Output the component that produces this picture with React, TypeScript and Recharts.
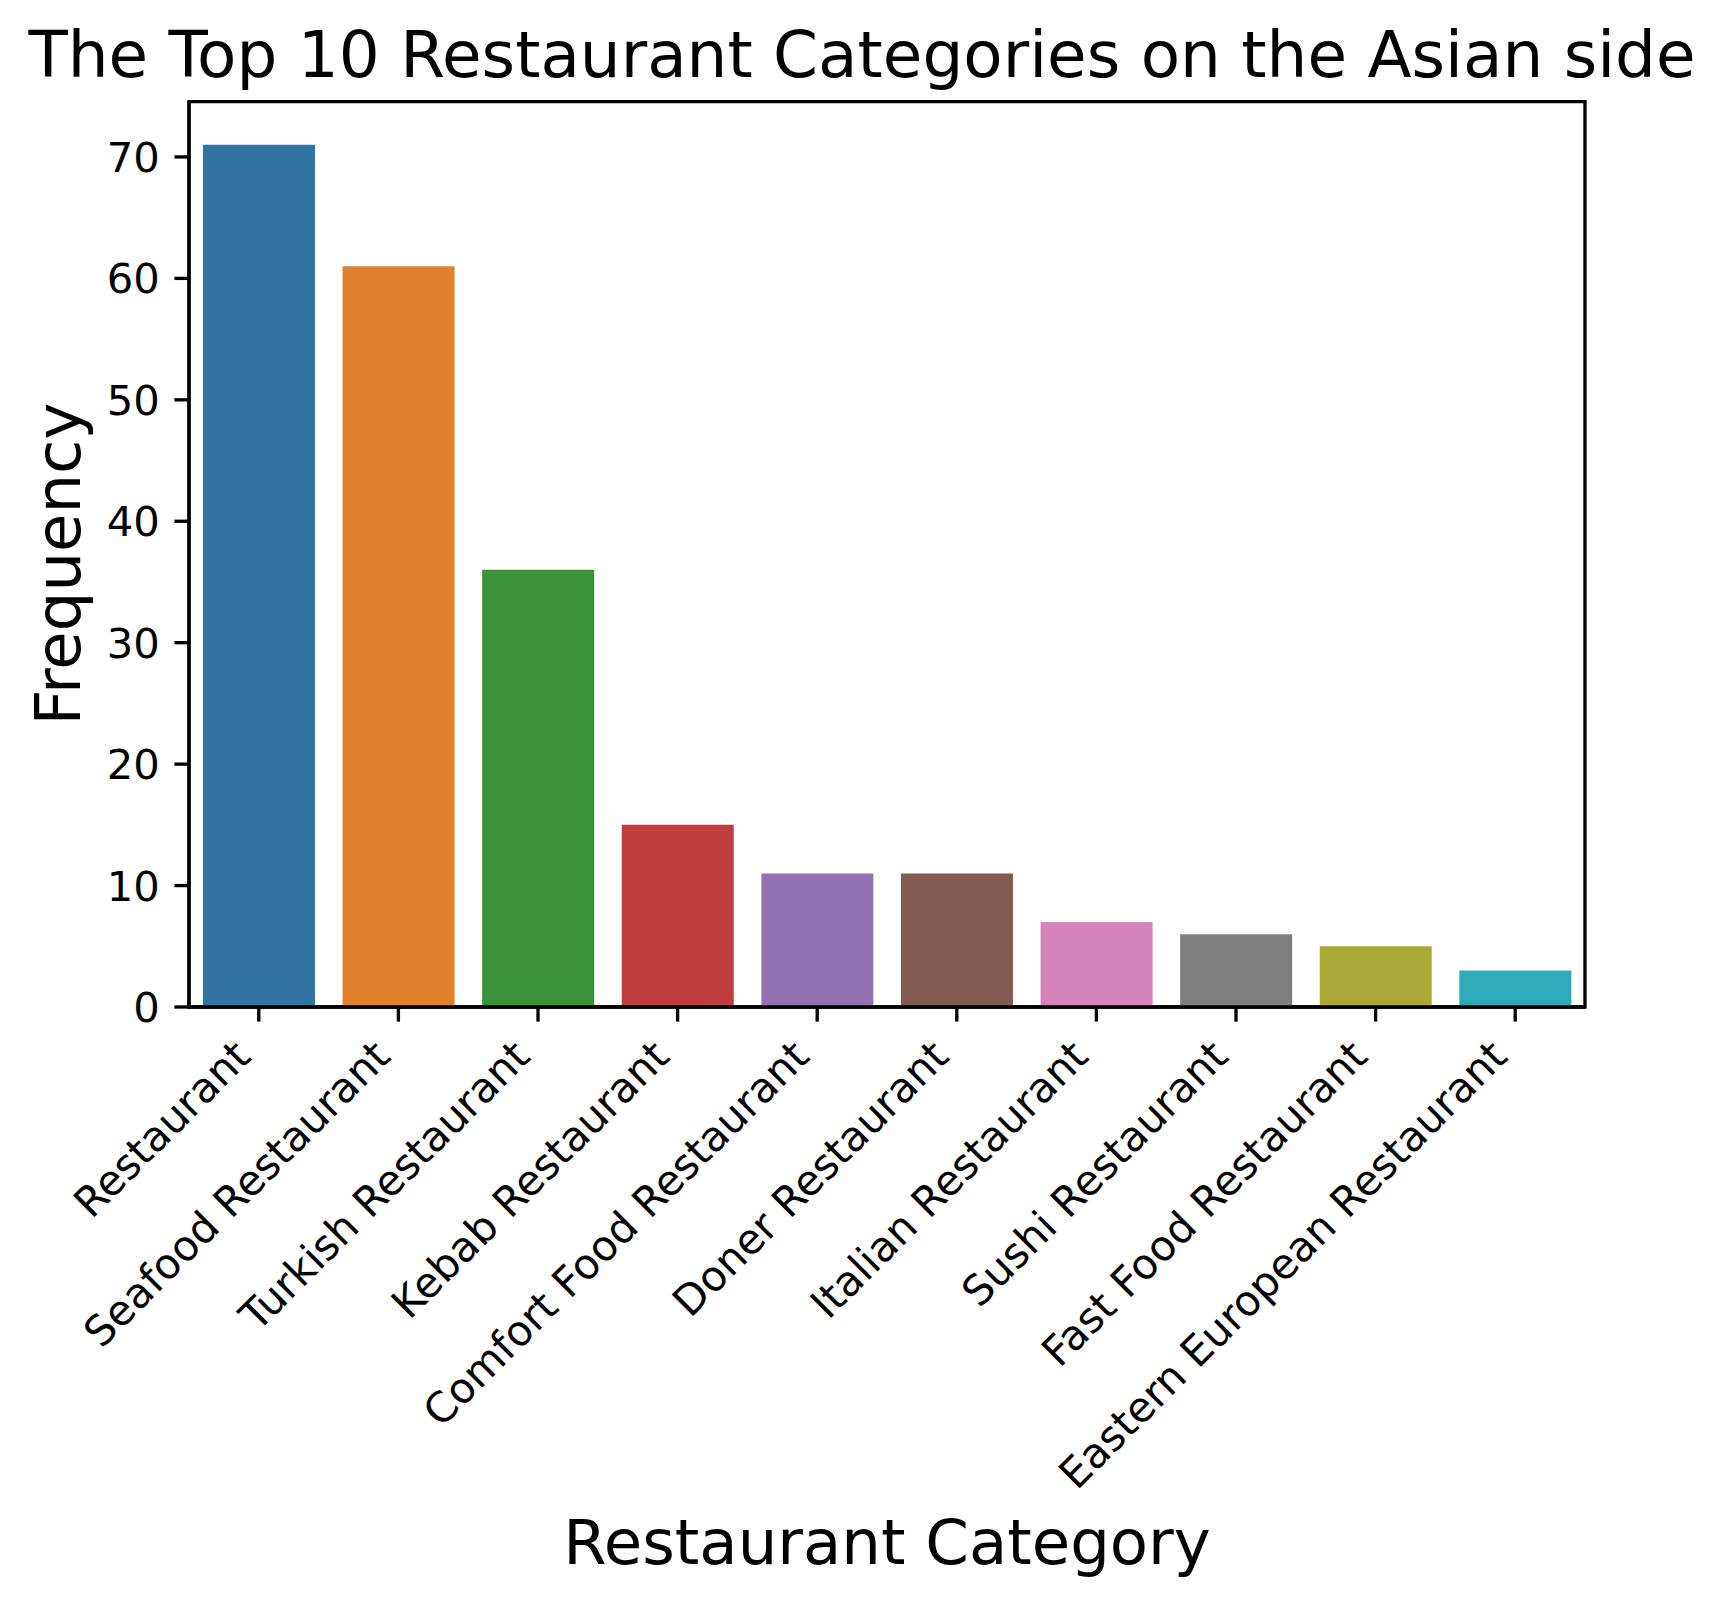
import React from 'react';
import { BarChart, Bar, XAxis, YAxis, Cell, ReferenceArea } from 'recharts';

const categories = [
  'Restaurant',
  'Seafood Restaurant',
  'Turkish Restaurant',
  'Kebab Restaurant',
  'Comfort Food Restaurant',
  'Doner Restaurant',
  'Italian Restaurant',
  'Sushi Restaurant',
  'Fast Food Restaurant',
  'Eastern European Restaurant',
];
const frequencies = [71, 61, 36, 15, 11, 11, 7, 6, 5, 3];
const barColors = [
  '#3274a1',
  '#e1812c',
  '#3a923a',
  '#c03d3e',
  '#9372b2',
  '#845b53',
  '#d684bd',
  '#7f7f7f',
  '#a9aa35',
  '#2eabb8',
];
const yTicks = [0, 10, 20, 30, 40, 50, 60, 70];
const yDomainMax = 74.55;

const titleText = 'The Top 10 Restaurant Categories on the Asian side';
const xLabelText = 'Restaurant Category';
const yLabelText = 'Frequency';

const data = categories.map((c, i) => ({ category: c, frequency: frequencies[i] }));

const FONT = "'DejaVu Sans', sans-serif";
const TICK_FS = 41.7;
const LABEL_FS = 62.5;
const TITLE_FS = 64.4;
const W = 1725;
const H = 1605;
const PLOT_LEFT = 189;
const PLOT_RIGHT = 1585;
const PLOT_TOP = 101.7;
const PLOT_BOTTOM = 1007;
const TICK_LEN = 14.6;
const TICK_PAD = 14.6;
const LW = 3.33;

const XTick = (props: any) => {
  const { x, y, payload } = props;
  const ax = x - 6;
  const ay = y + 22.4;
  return (
    <text
      x={ax}
      y={ay}
      textAnchor="end"
      transform={`rotate(-45, ${ax}, ${ay})`}
      fontFamily={FONT}
      fontSize={TICK_FS}
      fill="#000"
    >
      {payload.value}
    </text>
  );
};

const YTick = (props: any) => {
  const { x, y, payload } = props;
  return (
    <text x={x} y={y + 15} textAnchor="end" fontFamily={FONT} fontSize={TICK_FS} fill="#000">
      {payload.value}
    </text>
  );
};

export default function App() {
  return (
    <div style={{ position: 'absolute', left: 0, top: 0, width: W, height: H, background: '#fff' }}>
      <BarChart
        width={W}
        height={H}
        data={data}
        margin={{ top: PLOT_TOP, right: W - PLOT_RIGHT, bottom: 0, left: 0 }}
        barCategoryGap="10%"
      >
        <XAxis
          dataKey="category"
          height={H - PLOT_BOTTOM}
          interval={0}
          tickSize={TICK_LEN}
          tickMargin={TICK_PAD}
          axisLine={{ stroke: '#000', strokeWidth: LW }}
          tickLine={{ stroke: '#000', strokeWidth: LW }}
          tick={<XTick />}
        />
        <YAxis
          type="number"
          domain={[0, yDomainMax]}
          ticks={yTicks}
          width={PLOT_LEFT}
          tickSize={TICK_LEN}
          tickMargin={TICK_PAD}
          axisLine={{ stroke: '#000', strokeWidth: LW }}
          tickLine={{ stroke: '#000', strokeWidth: LW }}
          tick={<YTick />}
          allowDataOverflow
        />
        <Bar dataKey="frequency" isAnimationActive={false}>
          {data.map((d, i) => (
            <Cell key={d.category} fill={barColors[i]} />
          ))}
        </Bar>
        <ReferenceArea
          y1={0}
          y2={yDomainMax}
          fill="none"
          fillOpacity={0}
          stroke="#000"
          strokeWidth={LW}
          ifOverflow="visible"
        />
      </BarChart>
      <svg
        width={W}
        height={H}
        style={{ position: 'absolute', left: 0, top: 0, pointerEvents: 'none' }}
      >
        <text x={862} y={76.5} textAnchor="middle" fontFamily={FONT} fontSize={TITLE_FS} fill="#000">
          {titleText}
        </text>
        <text
          x={(PLOT_LEFT + PLOT_RIGHT) / 2}
          y={1564}
          textAnchor="middle"
          fontFamily={FONT}
          fontSize={LABEL_FS}
          fill="#000"
        >
          {xLabelText}
        </text>
        <text
          x={80}
          y={564}
          textAnchor="middle"
          transform="rotate(-90, 80, 564)"
          fontFamily={FONT}
          fontSize={LABEL_FS}
          fill="#000"
        >
          {yLabelText}
        </text>
      </svg>
    </div>
  );
}
